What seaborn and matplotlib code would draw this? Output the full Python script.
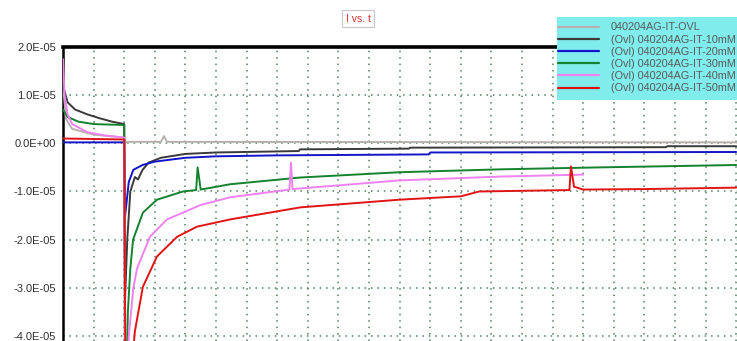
import numpy as np
import pandas as pd
import matplotlib
matplotlib.use("Agg")
import matplotlib.pyplot as plt
import seaborn as sns
from matplotlib.lines import Line2D
from matplotlib.patches import Rectangle

# ---- data (current in units of 1e-5 A, time in grid units) ----
series_names = [
    "040204AG-IT-OVL",
    "(Ovl) 040204AG-IT-10mM",
    "(Ovl) 040204AG-IT-20mM",
    "(Ovl) 040204AG-IT-30mM",
    "(Ovl) 040204AG-IT-40mM",
    "(Ovl) 040204AG-IT-50mM",
]
series_colors = ["#b8b0b0", "#3a3a3a", "#1414c8", "#14822e", "#ee82ee", "#e01414"]

t_ovl = [0, 0.1, 0.3, 1.0, 2.0, 2.03, 3.2, 3.3, 3.4, 22]
i_ovl = [1.2, 0.5, 0.3, 0.18, 0.12, 0.03, 0.03, 0.15, 0.03, 0.02]

t_10 = [0, 0.15, 0.4, 0.8, 1.2, 1.6, 2.0, 2.03, 2.1, 2.2, 2.35, 2.45, 2.6, 2.8, 3.2, 4.0,
        5.0, 7.7, 7.75, 11.3, 11.35, 19.7, 19.75, 22]
i_10 = [1.2, 0.85, 0.7, 0.6, 0.52, 0.45, 0.4, -3.2, -2.0, -1.0, -0.7, -0.75, -0.55, -0.4,
        -0.3, -0.22, -0.19, -0.16, -0.125, -0.11, -0.09, -0.08, -0.06, -0.06]

t_20 = [0, 2.0, 2.03, 2.15, 2.3, 2.6, 3.0, 4.0, 5.0, 7.0, 11.95, 12.0, 22]
i_20 = [0.02, 0.02, -1.5, -0.8, -0.55, -0.45, -0.38, -0.3, -0.27, -0.25, -0.23, -0.19, -0.18]

t_30 = [0, 0.15, 0.5, 1.0, 2.0, 2.03, 2.12, 2.2, 2.29, 2.61, 3.07, 3.92, 4.35, 4.4, 4.5,
        5.46, 7.75, 11.0, 14.3, 17.5, 22]
i_30 = [0.7, 0.55, 0.45, 0.4, 0.38, -6.0, -3.5, -2.6, -2.0, -1.44, -1.17, -1.0, -0.97,
        -0.5, -0.96, -0.85, -0.71, -0.6, -0.54, -0.5, -0.45]

t_40 = [0, 0.05, 0.15, 0.3, 0.8, 1.4, 2.0, 2.03, 2.15, 2.3, 2.42, 2.84, 3.4, 4.5, 5.46,
        7.4, 7.45, 7.5, 11.0, 14.3, 17.0]
i_40 = [1.75, 1.0, 0.6, 0.4, 0.23, 0.16, 0.12, -6.0, -4.0, -3.0, -2.6, -1.94, -1.58,
        -1.28, -1.12, -0.96, -0.4, -0.95, -0.77, -0.69, -0.65]

t_50 = [0, 2.0, 2.05, 2.35, 2.61, 3.07, 3.73, 4.38, 5.46, 7.75, 11.0, 13.0, 13.6, 16.55,
        16.6, 16.7, 17.0, 19.0, 22]
i_50 = [0.1, 0.08, -6.0, -3.9, -2.98, -2.35, -1.94, -1.73, -1.58, -1.33, -1.17, -1.1,
        -1.0, -0.97, -0.48, -0.9, -0.96, -0.95, -0.92]

y_ticks_e5 = [2, 1, 0, -1, -2, -3, -4]
y_tick_labels = ["2.0E-05", "1.0E-05", "0.0E+00", "-1.0E-05", "-2.0E-05", "-3.0E-05", "-4.0E-05"]

all_t = [t_ovl, t_10, t_20, t_30, t_40, t_50]
all_i = [i_ovl, i_10, i_20, i_30, i_40, i_50]

frames = []
for name, tt, ii in zip(series_names, all_t, all_i):
    frames.append(pd.DataFrame({"t": tt, "I": np.array(ii) * 1e-5, "series": name}))
df = pd.concat(frames, ignore_index=True)

# ---- figure ----
sns.set_style("white")
plt.rcParams["font.family"] = ["Liberation Sans", "DejaVu Sans"]

W, H = 737, 341
fig = plt.figure(figsize=(W / 100, H / 100), dpi=100)
left = 63 / W
top = 1 - 47 / H
ax = fig.add_axes([left, 0.0, 1.0 - left, top])

ax.set_xlim(0, (W - 63) / 30.6)
y_bottom = (144 - 341) / 48 * 1e-5
ax.set_ylim(y_bottom, 2.0e-5)

# grid
grid_col = "#4f8060"
for gx in range(1, 23):
    ax.axvline(gx, color=grid_col, lw=1.1, ls=(0, (1, 3.2)), zorder=0)
for gy in y_ticks_e5:
    if gy < 2:
        ax.axhline(gy * 1e-5, color=grid_col, lw=1.1, ls=(0, (1, 3.2)), zorder=0)

palette = dict(zip(series_names, series_colors))
sns.lineplot(data=df, x="t", y="I", hue="series", hue_order=series_names,
             palette=palette, sort=False, estimator=None, ax=ax, lw=1.4,
             legend=False, zorder=3)

# spines
for s in ["right", "bottom"]:
    ax.spines[s].set_visible(False)
ax.spines["top"].set_linewidth(2.6)
ax.spines["top"].set_color("black")
ax.spines["left"].set_linewidth(1.8)
ax.spines["left"].set_color("black")

ax.set_xticks([])
ax.set_yticks([v * 1e-5 for v in y_ticks_e5])
ax.set_yticklabels(y_tick_labels)
ax.set_yticks([v * 1e-5 for v in [1.5, 0.5, -0.5, -1.5, -2.5, -3.5]], minor=True)
ax.tick_params(axis="y", which="major", direction="inout", length=8, width=1.5,
               labelsize=8, labelcolor="#303030", pad=1)
ax.tick_params(axis="y", which="minor", direction="inout", length=6, width=1.3)
ax.set_xlabel("")
ax.set_ylabel("")

# legend background box
fig.patches.append(Rectangle((557 / W, 1 - 100 / H), (W - 557) / W + 0.01, 83 / H,
                             transform=fig.transFigure, facecolor="#80ecec",
                             edgecolor="none", zorder=9))

handles = [Line2D([0], [0], color=c, lw=1.6) for c in series_colors]
leg = fig.legend(handles, series_names, loc="upper left",
                 bbox_to_anchor=(558 / W, 1 - 22.5 / H),
                 fontsize=7.8, frameon=False, handlelength=3.8,
                 handletextpad=1.1, labelspacing=0.2, borderpad=0,
                 borderaxespad=0)
for txt in leg.get_texts():
    txt.set_color("#5a5a5a")
leg.set_zorder(10)

# title
fig.text(358 / W, 1 - 18.5 / H, "I vs. t", color="#e03030", fontsize=7.5,
         ha="center", va="center",
         bbox=dict(boxstyle="square,pad=0.35", fc="white", ec="#c8c8c8", lw=0.8))

fig.savefig("out.png", dpi=100)
